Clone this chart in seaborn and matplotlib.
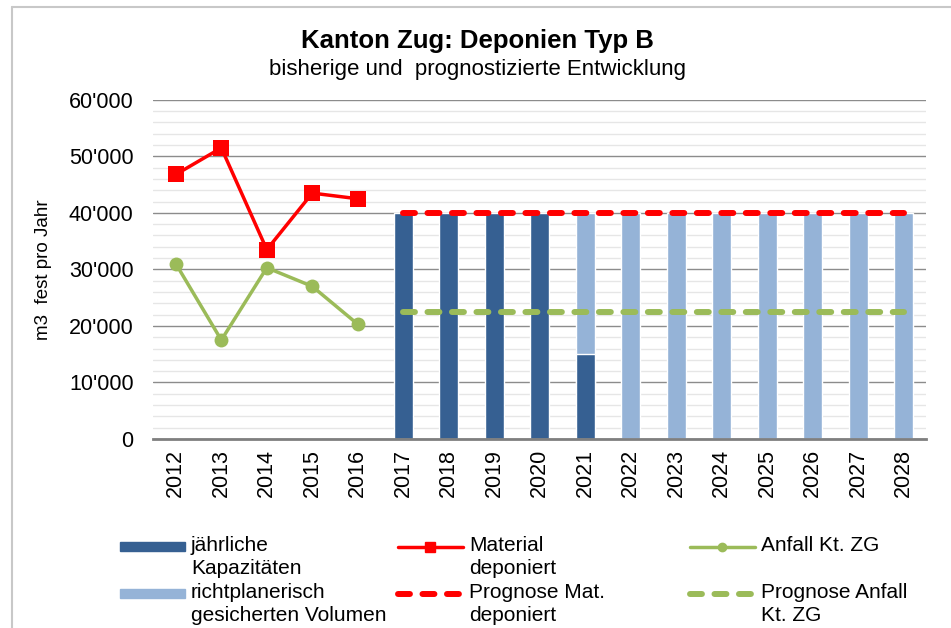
import matplotlib
matplotlib.use('Agg')
import matplotlib.pyplot as plt
import seaborn as sns
from matplotlib.ticker import FuncFormatter, MultipleLocator
from matplotlib.lines import Line2D
from matplotlib.patches import Patch, Rectangle
from matplotlib.legend_handler import HandlerLine2D, HandlerPatch

# data
years = ['2012', '2013', '2014', '2015', '2016', '2017', '2018', '2019', '2020',
         '2021', '2022', '2023', '2024', '2025', '2026', '2027', '2028']
kapazitaeten = [0, 0, 0, 0, 0, 40000, 40000, 40000, 40000, 15000,
                0, 0, 0, 0, 0, 0, 0]
# richtplanerisch gesichert, drawn as total height (dark part sits on top of it)
richtplan_total = [0, 0, 0, 0, 0, 0, 0, 0, 0, 40000,
                   40000, 40000, 40000, 40000, 40000, 40000, 40000]
hist_years = ['2012', '2013', '2014', '2015', '2016']
material = [46800, 51500, 33500, 43500, 42500]
anfall = [31000, 17500, 30300, 27000, 20300]
prog_years = ['2017', '2018', '2019', '2020', '2021', '2022', '2023', '2024',
              '2025', '2026', '2027', '2028']
prog_material = [40000, 40000, 40000, 40000, 40000, 40000, 40000, 40000,
                 40000, 40000, 40000, 40000]
prog_anfall = [22500, 22500, 22500, 22500, 22500, 22500, 22500, 22500,
               22500, 22500, 22500, 22500]

DARK = '#366092'
LIGHT = '#95B3D7'
RED = '#FF0000'
GREEN = '#9BBB59'
DASH = (0, (2, 2.1))


# legend handles sit next to the first text line, like in Excel
class TopLine(HandlerLine2D):
    def create_artists(self, legend, orig_handle, xdescent, ydescent, width, height,
                       fontsize, trans):
        return super().create_artists(legend, orig_handle, xdescent,
                                      ydescent - 1.05 * fontsize, width, height,
                                      fontsize, trans)


class TopPatch(HandlerPatch):
    def create_artists(self, legend, orig_handle, xdescent, ydescent, width, height,
                       fontsize, trans):
        h = 0.45 * fontsize
        yc = height / 2 - ydescent + 0.52 * fontsize
        p = Rectangle((-xdescent, yc - h / 2), width, h)
        self.update_prop(p, orig_handle, legend)
        p.set_transform(trans)
        return [p]


sns.set_style('white')
plt.rcParams['font.family'] = ['Liberation Sans', 'DejaVu Sans']
plt.rcParams['text.color'] = 'black'
plt.rcParams['axes.labelcolor'] = 'black'
plt.rcParams['xtick.color'] = 'black'
plt.rcParams['ytick.color'] = 'black'

fig = plt.figure(figsize=(9.51, 6.28), dpi=100)
ax = fig.add_axes([0.161, 0.301, 0.813, 0.540])

sns.barplot(x=years, y=richtplan_total, order=years, color=LIGHT, saturation=1,
            width=0.42, ax=ax)
sns.barplot(x=years, y=kapazitaeten, order=years, color=DARK, saturation=1,
            width=0.42, ax=ax)

hist_pos = [years.index(y) for y in hist_years]
prog_pos = [years.index(y) for y in prog_years]

sns.lineplot(x=prog_pos, y=prog_material, color=RED, lw=4.3, ax=ax,
             linestyle=DASH, dash_capstyle='round', zorder=4)
sns.lineplot(x=prog_pos, y=prog_anfall, color=GREEN, lw=4.3, ax=ax,
             linestyle=DASH, dash_capstyle='round', zorder=4)
sns.lineplot(x=hist_pos, y=material, color=RED, lw=2.5, marker='s',
             markersize=11, markeredgewidth=0, ax=ax, zorder=5)
sns.lineplot(x=hist_pos, y=anfall, color=GREEN, lw=2.5, marker='o',
             markersize=10, markeredgewidth=0, ax=ax, zorder=5)

ax.set_xlim(-0.5, len(years) - 0.5)
ax.set_ylim(0, 60000)
ax.yaxis.set_major_locator(MultipleLocator(10000))
ax.yaxis.set_minor_locator(MultipleLocator(2000))
ax.yaxis.set_major_formatter(FuncFormatter(lambda v, p: f"{int(v):,}".replace(',', "'")))
ax.grid(axis='y', which='major', color='#8c8c8c', lw=1.0)
ax.grid(axis='y', which='minor', color='#e6e6e6', lw=1.0)
ax.set_axisbelow(True)
ax.tick_params(axis='y', which='both', length=0, pad=14, labelsize=15.5)
ax.tick_params(axis='x', length=0, pad=7, labelsize=15.5, rotation=90)
for s in ['left', 'right', 'top']:
    ax.spines[s].set_visible(False)
ax.spines['bottom'].set_color('#7f7f7f')
ax.spines['bottom'].set_linewidth(2)
ax.set_xlabel('')
ax.set_ylabel('m3  fest pro Jahr', fontsize=13.5, labelpad=12)
if ax.get_legend():
    ax.get_legend().remove()

fig.text(0.502, 0.935, 'Kanton Zug: Deponien Typ B', ha='center', va='center',
         fontsize=18.5, fontweight='bold')
fig.text(0.502, 0.889, 'bisherige und  prognostizierte Entwicklung', ha='center',
         va='center', fontsize=16)

legend_cols = [
    (120, [Patch(color=DARK), Patch(color=LIGHT)],
     ['jährliche\nKapazitäten', 'richtplanerisch\ngesicherten Volumen']),
    (398, [Line2D([], [], color=RED, lw=2.5, marker='s', markersize=7),
           Line2D([], [], color=RED, lw=4.3, linestyle=DASH, dash_capstyle='round')],
     ['Material\ndeponiert', 'Prognose Mat.\ndeponiert']),
    (690, [Line2D([], [], color=GREEN, lw=2.5, marker='o', markersize=6),
           Line2D([], [], color=GREEN, lw=4.3, linestyle=DASH, dash_capstyle='round')],
     ['Anfall Kt. ZG\n', 'Prognose Anfall\nKt. ZG']),
]
for x0, hs, ls in legend_cols:
    leg = fig.legend(hs, ls, loc='upper left', bbox_to_anchor=(x0 / 951, 0.146),
                     frameon=False, fontsize=15, handlelength=3.1, handletextpad=0.3,
                     labelspacing=0.25, borderaxespad=0, borderpad=0,
                     handler_map={Patch: TopPatch(), Line2D: TopLine()})
    for t in leg.get_texts():
        t.set_linespacing(1.26)

# frame of the chart area (top and left edges visible)
fig.add_artist(Line2D([12 / 951, 1], [1 - 7 / 628, 1 - 7 / 628], color='#c8c8c8',
                      lw=1.5, transform=fig.transFigure))
fig.add_artist(Line2D([12 / 951, 12 / 951], [0, 1 - 7 / 628], color='#c8c8c8',
                      lw=1.5, transform=fig.transFigure))

fig.savefig('out.png', dpi=100)
